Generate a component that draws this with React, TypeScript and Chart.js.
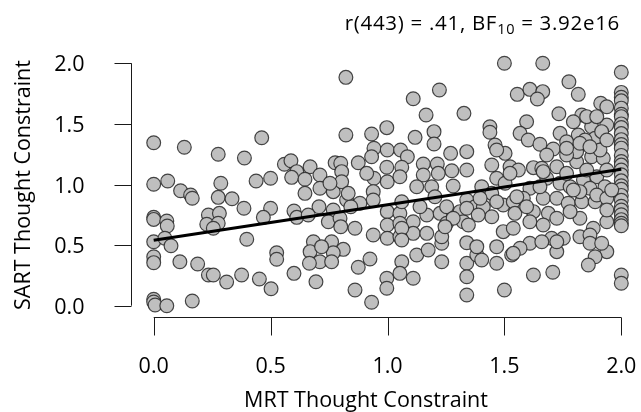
import React, { useEffect, useRef } from "react";
import { Chart, registerables } from "chart.js";

Chart.register(...registerables);

// MRT Thought Constraint (x) and SART Thought Constraint (y), paired by index
const mrtValues = [
  0.0, 0.131, 0.276, 0.388, 0.462, 0.559, 0.587, 0.612, 0.59, 0.0, 0.06, 0.115, 0.158, 0.165, 0.287, 0.276, 0.335, 0.386, 0.438, 0.5,
  0.5, 0.469, 0.6, 0.612, 0.0, 0.0, 0.056, 0.058, 0.234, 0.281, 0.227, 0.276, 0.255, 0.0, 0.048, 0.074, 0.398, 0.0, 0.0, 0.112,
  0.188, 0.234, 0.255, 0.312, 0.376, 0.452, 0.502, 0.526, 0.526, 0.6, 0.0, 0.0, 0.006, 0.056, 0.165,
  0.822, 1.11, 1.222, 1.165, 1.327, 0.822, 0.932, 0.997, 1.118, 1.199, 1.199, 0.942, 0.999, 1.056, 1.085, 0.932, 1.27, 1.339, 0.669, 0.776,
  0.8, 0.875, 0.804, 0.711, 0.647, 0.647, 0.997, 1.061, 1.153, 1.213, 1.275, 1.339, 0.942, 0.999, 1.053, 1.153, 1.125, 1.189, 1.281, 0.768,
  0.825, 0.882, 0.939, 0.939, 0.711, 0.707, 0.768, 0.661, 0.747, 0.797, 0.8, 0.861, 0.999, 0.999, 1.053, 1.11, 1.168, 1.225, 1.253, 1.139,
  1.203, 1.253, 1.31, 1.061, 1.11, 1.168, 0.999, 0.939, 0.683, 0.761, 0.811, 0.669, 0.768, 0.711, 0.666, 0.761, 0.875, 0.925, 1.061, 1.125,
  1.232, 1.232, 1.339, 1.339, 1.339, 1.339, 0.694, 0.861, 0.932, 0.997, 0.997, 1.053, 1.11, 1.339, 0.843,
  1.5, 1.664, 2.0, 1.776, 1.555, 1.609, 1.664, 1.641, 1.816, 1.733, 1.912, 1.938, 1.831, 1.595, 1.438, 1.438, 1.567, 1.602, 1.652, 1.709,
  1.738, 1.795, 1.873, 1.938, 1.816, 1.888, 1.46, 1.503, 1.446, 1.524, 1.56, 1.624, 1.66, 1.724, 1.809, 1.873, 1.923, 1.403, 1.467, 1.503,
  1.609, 1.681, 1.738, 1.781, 1.838, 1.895, 1.93, 1.446, 1.374, 1.41, 1.446, 1.495, 1.538, 1.545, 1.624, 1.666, 1.724, 1.688, 1.773, 1.831,
  1.888, 1.609, 1.666, 1.724, 1.823, 1.88, 1.938, 1.324, 1.346, 1.495, 1.538, 1.702, 1.752, 1.823, 1.866, 1.866, 1.467, 1.609, 1.66, 1.567,
  1.531, 1.467, 1.382, 1.724, 1.938, 1.888, 1.859, 1.624, 1.707, 1.5, 2.0, 2.0,
  1.852, 1.895, 1.916, 1.845, 1.766, 1.809, 1.909, 1.766, 1.681, 1.852, 1.938, 1.766, 1.666, 1.866, 1.895, 1.823, 1.938, 1.781, 1.938, 1.581,
  1.595, 1.467, 1.396, 1.339, 1.538, 1.724,
  2.0, 2.0, 2.0, 2.0, 2.0, 2.0, 2.0, 2.0, 2.0, 2.0, 2.0, 2.0, 2.0, 2.0, 2.0, 2.0, 2.0, 2.0, 2.0, 2.0,
  2.0, 2.0, 2.0, 2.0, 2.0, 2.0, 2.0, 2.0,
  0.804, 0.911, 0.832, 1.053, 0.718, 0.754, 1.053,
  1.467, 1.217, 1.061, 1.281, 1.388, 1.061, 1.232, 1.246, 1.061, 1.174, 1.382, 1.403,
  1.938, 1.766, 1.823, 1.866, 1.652, 1.524, 1.795, 1.959, 1.553, 1.916,
];

const sartValues = [
  1.345, 1.307, 1.249, 1.219, 1.386, 1.167, 1.196, 1.106, 1.059, 1.002, 1.029, 0.949, 0.913, 0.886, 1.01, 0.894, 0.883, 0.804, 1.029, 1.051,
  0.804, 0.729, 0.781, 0.729, 0.73, 0.712, 0.699, 0.658, 0.748, 0.762, 0.672, 0.68, 0.639, 0.528, 0.556, 0.495, 0.548, 0.404, 0.355, 0.363,
  0.344, 0.253, 0.253, 0.196, 0.253, 0.22, 0.14, 0.437, 0.383, 0.267, 0.053, 0.03, 0.006, 0.0, 0.039,
  1.884, 1.708, 1.78, 1.573, 1.587, 1.408, 1.417, 1.469, 1.389, 1.436, 1.334, 1.299, 1.285, 1.285, 1.229, 1.229, 1.257, 1.271, 1.147, 1.18,
  1.175, 1.18, 1.106, 1.078, 1.043, 0.927, 1.142, 1.142, 1.169, 1.169, 1.114, 1.12, 1.051, 1.023, 1.064, 1.078, 0.982, 0.982, 0.988, 0.941,
  0.872, 0.845, 0.941, 0.872, 0.969, 0.817, 0.79, 0.748, 0.693, 0.721, 0.652, 0.639, 0.776, 0.666, 0.762, 0.693, 0.748, 0.762, 0.68, 0.817,
  0.899, 0.817, 0.776, 0.597, 0.597, 0.597, 0.556, 0.583, 0.528, 0.528, 0.465, 0.446, 0.437, 0.363, 0.35, 0.363, 0.317, 0.385, 0.363, 0.418,
  0.363, 0.515, 0.52, 0.35, 0.239, 0.088, 0.198, 0.13, 0.028, 0.226, 0.144, 0.267, 0.226, 0.872, 0.817,
  2.0, 2.0, 1.926, 1.848, 1.744, 1.785, 1.766, 1.705, 1.744, 1.584, 1.67, 1.642, 1.573, 1.518, 1.477, 1.431, 1.422, 1.367, 1.332, 1.293,
  1.422, 1.518, 1.477, 1.491, 1.408, 1.381, 1.326, 1.257, 1.161, 1.147, 1.12, 1.139, 1.134, 1.147, 1.188, 1.229, 1.216, 0.982, 1.051, 1.01,
  0.969, 1.051, 1.01, 0.982, 1.037, 1.064, 0.982, 0.927, 0.817, 0.817, 0.734, 0.831, 0.858, 0.762, 0.776, 0.886, 0.886, 0.762, 0.845, 0.858,
  0.858, 0.693, 0.666, 0.721, 0.721, 0.639, 0.693, 0.693, 0.666, 0.611, 0.639, 0.556, 0.556, 0.569, 0.583, 0.515, 0.487, 0.515, 0.528, 0.474,
  0.418, 0.35, 0.418, 0.446, 0.446, 0.404, 0.336, 0.253, 0.276, 0.13, 0.253, 0.185,
  1.56, 1.56, 1.436, 1.367, 1.353, 1.271, 1.285, 1.243, 1.243, 1.12, 1.12, 1.092, 1.106, 0.969, 0.913, 0.941, 0.886, 0.776, 0.79, 0.886,
  0.817, 0.858, 0.886, 0.804, 0.432, 0.528,
  1.76, 1.72, 1.69, 1.63, 1.58, 1.56, 1.5, 1.47, 1.42, 1.37, 1.33, 1.3, 1.24, 1.19, 1.16, 1.12, 1.08, 1.03, 0.99, 0.96,
  0.91, 0.87, 0.82, 0.79, 0.75, 0.71, 0.68, 0.66,
  1.023, 1.092, 0.927, 0.68, 0.487, 1.01, 0.569,
  1.285, 1.092, 0.858, 0.721, 0.748, 0.639, 0.569, 0.652, 0.542, 0.46, 0.487, 0.377,
  1.367, 1.299, 1.34, 1.312, 0.982, 1.092, 0.955, 0.955, 0.899, 0.515,
];

// Regression line end points
const fitX = [0, 2];
const fitY = [0.54, 1.125];

const xTicks = [0, 0.5, 1, 1.5, 2];
const yTicks = [0, 0.5, 1, 1.5, 2];
const xTitle = "MRT Thought Constraint";
const yTitle = "SART Thought Constraint";
const titleHead = "r(443) = .41, BF";
const titleSub = "10";
const titleTail = " = 3.92e16";

const FONT = "'Open Sans', 'Noto Sans', sans-serif";

const jaspAxes = {
  id: "jaspAxes",
  afterDraw(chart: any) {
    const ctx = chart.ctx as CanvasRenderingContext2D;
    const xs = chart.scales.x;
    const ys = chart.scales.y;
    const area = chart.chartArea;
    ctx.save();
    ctx.strokeStyle = "#1a1a1a";
    ctx.lineWidth = 1;

    // y axis
    const yAxisX = Math.round(area.left - 23) + 0.5;
    ctx.beginPath();
    ctx.moveTo(yAxisX, ys.getPixelForValue(yTicks[0]));
    ctx.lineTo(yAxisX, ys.getPixelForValue(yTicks[yTicks.length - 1]));
    for (const t of yTicks) {
      const py = Math.round(ys.getPixelForValue(t)) + 0.5;
      ctx.moveTo(yAxisX - 17, py);
      ctx.lineTo(yAxisX, py);
    }
    ctx.stroke();

    // x axis
    const xAxisY = Math.round(area.bottom + 11.5) + 0.5;
    ctx.beginPath();
    ctx.moveTo(xs.getPixelForValue(xTicks[0]), xAxisY);
    ctx.lineTo(xs.getPixelForValue(xTicks[xTicks.length - 1]), xAxisY);
    for (const t of xTicks) {
      const px = Math.round(xs.getPixelForValue(t)) + 0.5;
      ctx.moveTo(px, xAxisY);
      ctx.lineTo(px, xAxisY + 18);
    }
    ctx.stroke();

    ctx.fillStyle = "#000";
    ctx.font = `21.5px ${FONT}`;
    // y tick labels
    ctx.textAlign = "right";
    ctx.textBaseline = "middle";
    for (const t of yTicks) {
      ctx.fillText(t.toFixed(1), yAxisX - 47, ys.getPixelForValue(t) + 2);
    }
    // x tick labels
    ctx.textAlign = "center";
    ctx.textBaseline = "alphabetic";
    for (const t of xTicks) {
      ctx.fillText(t.toFixed(1), xs.getPixelForValue(t), xAxisY + 55.5);
    }

    // axis titles
    ctx.font = `21.5px ${FONT}`;
    ctx.fillText(xTitle, 366, 406.5);
    ctx.save();
    ctx.translate(29.5, 185);
    ctx.rotate(-Math.PI / 2);
    ctx.textAlign = "center";
    ctx.fillText(yTitle, 0, 0);
    ctx.restore();

    // title with subscript
    const mainFont = `20.5px ${FONT}`;
    const subFont = `14.5px ${FONT}`;
    (ctx as any).letterSpacing = "0.7px";
    ctx.textAlign = "left";
    ctx.font = mainFont;
    const wHead = ctx.measureText(titleHead).width;
    const wTail = ctx.measureText(titleTail).width;
    ctx.font = subFont;
    const wSub = ctx.measureText(titleSub).width;
    const right = 620;
    const baseline = 29.5;
    let x = right - (wHead + wSub + wTail);
    ctx.font = mainFont;
    ctx.fillText(titleHead, x, baseline);
    x += wHead;
    ctx.font = subFont;
    ctx.fillText(titleSub, x, baseline + 4.5);
    x += wSub;
    ctx.font = mainFont;
    ctx.fillText(titleTail, x, baseline);
    (ctx as any).letterSpacing = "0px";

    ctx.restore();
  },
};

export default function App() {
  const canvasRef = useRef<HTMLCanvasElement | null>(null);

  useEffect(() => {
    if (!canvasRef.current) return;
    const points = mrtValues.map((x, i) => ({ x, y: sartValues[i] }));
    const fitLine = fitX.map((x, i) => ({ x, y: fitY[i] }));
    const chart = new Chart(canvasRef.current, {
      type: "scatter",
      data: {
        datasets: [
          {
            type: "line",
            data: fitLine,
            borderColor: "#000",
            borderWidth: 3,
            pointRadius: 0,
            fill: false,
            order: 0,
            clip: false,
          } as any,
          {
            data: points,
            backgroundColor: "#bfbfbf",
            borderColor: "rgba(40,40,40,0.85)",
            borderWidth: 1.2,
            pointRadius: 6.9,
            order: 1,
            clip: false,
          } as any,
        ],
      },
      options: {
        responsive: false,
        maintainAspectRatio: false,
        animation: false,
        events: [],
        layout: {
          padding: { left: 153.7, right: 19.7, top: 63.3, bottom: 106.3 },
        },
        plugins: {
          legend: { display: false },
          tooltip: { enabled: false },
          title: { display: false },
        },
        scales: {
          x: { type: "linear", min: 0, max: 2, display: false },
          y: { type: "linear", min: 0, max: 2, display: false },
        },
      },
      plugins: [jaspAxes],
    });
    return () => chart.destroy();
  }, []);

  return (
    <canvas
      ref={canvasRef}
      width={641}
      height={412}
      style={{ position: "absolute", left: 0, top: 0, width: 641, height: 412 }}
    />
  );
}
